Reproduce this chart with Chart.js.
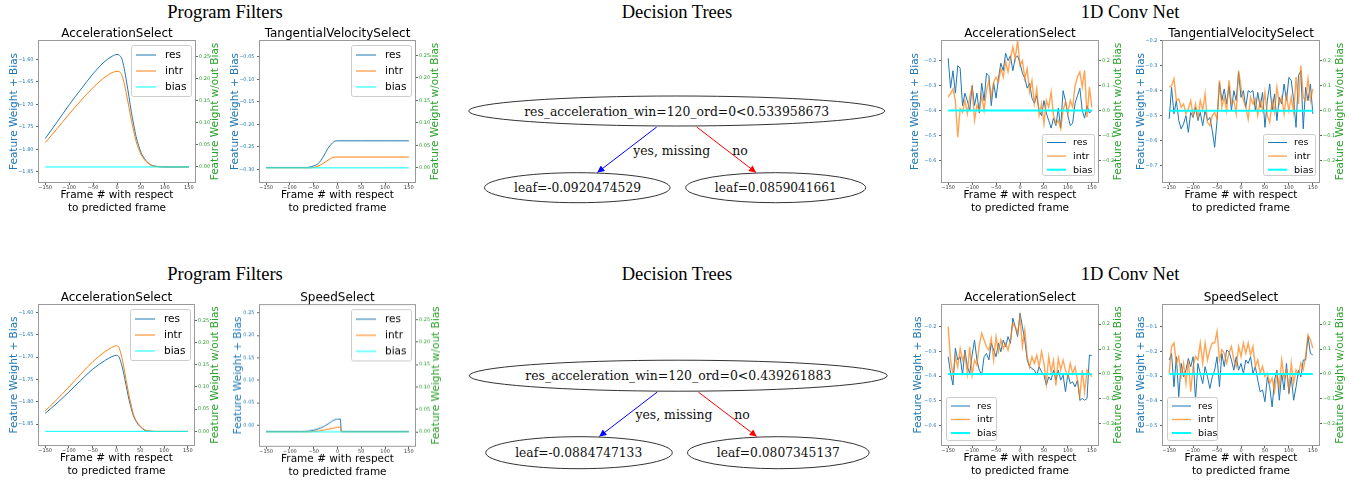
<!DOCTYPE html>
<html>
<head>
<meta charset="utf-8">
<script src="https://cdn.jsdelivr.net/npm/chart.js@4"></script>
<style>
html, body { margin: 0; padding: 0; background: #fff; width: 1355px; height: 480px; overflow: hidden; position: relative; }
canvas { position: absolute; }
svg { position: absolute; left: 0; top: 0; }
.sec { font-family: "Liberation Serif", "Times New Roman", serif; font-size: 18.5px; fill: #000; }
.node { font-family: "DejaVu Serif", "Liberation Serif", serif; font-size: 12.5px; fill: #111; }
</style>
</head>
<body>
<svg width="1355" height="480">
  <defs>
    <marker id="ab" viewBox="0 0 10 10" refX="10" refY="5" markerWidth="8" markerHeight="7" orient="auto">
      <path d="M0,0 L10,5 L0,10 z" fill="#0000ff"/>
    </marker>
    <marker id="ar" viewBox="0 0 10 10" refX="10" refY="5" markerWidth="8" markerHeight="7" orient="auto">
      <path d="M0,0 L10,5 L0,10 z" fill="#ff0000"/>
    </marker>
  </defs>
  <g text-anchor="middle" dominant-baseline="central">
    <text class="sec" x="225" y="12">Program Filters</text>
    <text class="sec" x="677" y="12">Decision Trees</text>
    <text class="sec" x="1130" y="12">1D Conv Net</text>
    <text class="sec" x="225" y="274">Program Filters</text>
    <text class="sec" x="677" y="274">Decision Trees</text>
    <text class="sec" x="1130" y="274">1D Conv Net</text>

    <!-- top tree -->
    <ellipse cx="676.7" cy="111" rx="208" ry="15" fill="none" stroke="#333"/>
    <text class="node" x="676.7" y="111" textLength="305" lengthAdjust="spacingAndGlyphs">res_acceleration_win=120_ord=0&lt;0.533958673</text>
    <line x1="656.7" y1="127" x2="597.3" y2="172.5" stroke="#0000ff" marker-end="url(#ab)"/>
    <line x1="696.7" y1="127" x2="756" y2="172.5" stroke="#ff0000" marker-end="url(#ar)"/>
    <text class="node" x="671.7" y="150" textLength="77" lengthAdjust="spacingAndGlyphs">yes, missing</text>
    <text class="node" x="740" y="150">no</text>
    <ellipse cx="577.3" cy="187.7" rx="92.8" ry="15" fill="none" stroke="#333"/>
    <text class="node" x="577.5" y="187.7" textLength="127" lengthAdjust="spacingAndGlyphs">leaf=-0.0920474529</text>
    <ellipse cx="775.7" cy="187.7" rx="90" ry="15" fill="none" stroke="#333"/>
    <text class="node" x="775.8" y="187.7" textLength="122" lengthAdjust="spacingAndGlyphs">leaf=0.0859041661</text>

    <!-- bottom tree -->
    <ellipse cx="678.3" cy="375.7" rx="209" ry="15.5" fill="none" stroke="#333"/>
    <text class="node" x="678.3" y="375.7" textLength="306" lengthAdjust="spacingAndGlyphs">res_acceleration_win=120_ord=0&lt;0.439261883</text>
    <line x1="657.3" y1="392" x2="599.3" y2="436.5" stroke="#0000ff" marker-end="url(#ab)"/>
    <line x1="698.3" y1="392" x2="756.7" y2="436.5" stroke="#ff0000" marker-end="url(#ar)"/>
    <text class="node" x="674" y="414.3" textLength="77" lengthAdjust="spacingAndGlyphs">yes, missing</text>
    <text class="node" x="742" y="414.3">no</text>
    <ellipse cx="579" cy="452.7" rx="93.3" ry="16" fill="none" stroke="#333"/>
    <text class="node" x="578.7" y="452.7" textLength="127" lengthAdjust="spacingAndGlyphs">leaf=-0.0884747133</text>
    <ellipse cx="778.3" cy="452.7" rx="90.8" ry="16" fill="none" stroke="#333"/>
    <text class="node" x="778.3" y="452.7" textLength="123" lengthAdjust="spacingAndGlyphs">leaf=0.0807345137</text>
  </g>
</svg>
<script>
// ---- data: program filters ----
const progX = [-150, -125, -100, -75, -50, -25, -10, 0, 5, 10, 15, 20, 25, 30, 35, 40, 50, 60, 70, 80, 100, 125, 150];
const pfAccTopRes = [-1.776, -1.739, -1.701, -1.666, -1.632, -1.604, -1.593, -1.589, -1.591, -1.598, -1.620, -1.650, -1.683, -1.717, -1.746, -1.772, -1.806, -1.824, -1.834, -1.837, -1.839, -1.839, -1.839];
const pfAccTopIntr = [0.055, 0.087, 0.120, 0.151, 0.180, 0.204, 0.214, 0.217, 0.216, 0.209, 0.190, 0.164, 0.135, 0.106, 0.081, 0.058, 0.029, 0.013, 0.005, 0.001, 0, 0, 0];
const pfAccBotRes = [-1.826, -1.803, -1.778, -1.752, -1.727, -1.708, -1.699, -1.696, -1.699, -1.714, -1.736, -1.762, -1.789, -1.811, -1.830, -1.842, -1.856, -1.864, -1.866, -1.8665, -1.8665, -1.8665, -1.8665];
const pfAccBotIntr = [0.046, 0.072, 0.100, 0.129, 0.157, 0.179, 0.189, 0.193, 0.189, 0.172, 0.147, 0.117, 0.088, 0.063, 0.041, 0.027, 0.012, 0.003, 0.001, 0, 0, 0, 0];

const tanX = [-150, -100, -70, -60, -50, -40, -30, -20, -10, -5, 0, 50, 100, 150];
const pfTanRes = [-0.2955, -0.2955, -0.2955, -0.295, -0.292, -0.2866, -0.272, -0.253, -0.2406, -0.2368, -0.2365, -0.2365, -0.2365, -0.2365];
const pfTanIntr = [0, 0, 0, 0, 0.001, 0.004, 0.010, 0.017, 0.023, 0.024, 0.024, 0.024, 0.024, 0.024];

const speedX = [-150, -80, -60, -50, -40, -30, -20, -10, 0, 6, 8, 50, 100, 150];
const pfSpeedRes = [-0.0141, -0.0141, -0.013, -0.0112, -0.008, -0.0037, 0.0025, 0.0095, 0.0134, 0.0132, -0.0141, -0.0141, -0.0141, -0.0141];
const pfSpeedIntr = [0, 0, 0, 0.001, 0.002, 0.004, 0.006, 0.008, 0.010, 0.011, 0, 0, 0, 0];

// ---- data: 1D conv net ----
const convX = [-150, -145, -140, -135, -130, -125, -120, -115, -110, -105, -100, -95, -90, -85, -80, -75, -70, -65, -60, -55,
  -50, -45, -40, -35, -30, -25, -20, -15, -10, -5, 0, 5, 10, 15, 20, 25, 30, 35, 40, 45,
  50, 55, 60, 65, 70, 75, 80, 85, 90, 95, 100, 105, 110, 115, 120, 125, 130, 135, 140, 145, 150];
const cnAccTopRes = [-0.19, -0.31, -0.24, -0.33, -0.22, -0.23, -0.38, -0.33, -0.36, -0.40, -0.30, -0.38, -0.33, -0.41, -0.29, -0.36, -0.25, -0.26, -0.38, -0.29,
  -0.35, -0.27, -0.21, -0.24, -0.17, -0.20, -0.18, -0.24, -0.19, -0.18, -0.21, -0.25, -0.27, -0.31, -0.29, -0.35, -0.37, -0.34, -0.40, -0.42,
  -0.36, -0.41, -0.44, -0.47, -0.43, -0.46, -0.39, -0.47, -0.32, -0.36, -0.42, -0.46, -0.45, -0.37, -0.34, -0.31, -0.40, -0.43, -0.38, -0.41, -0.40];
const cnAccTopIntr = [0.054, 0.067, 0.087, 0.04, -0.108, 0.007, -0.007, 0.04, -0.013, 0.054, 0.094, -0.04, 0.02, 0, 0.06, 0, 0.08, 0.12, 0.054, 0.114,
  0.134, 0.114, 0.168, 0.134, 0.195, 0.155, 0.208, 0.255, 0.208, 0.282, 0.181, 0.20, 0.128, 0.168, 0.074, 0.12, 0.027, 0.087, -0.02, 0.027,
  -0.054, 0.04, 0.013, 0.074, -0.02, -0.054, -0.04, -0.074, 0, 0.034, -0.013, 0.04, 0.013, 0.10, 0.134, 0.155, 0.094, 0.161, -0.027, 0.094, 0.013];
const cnTanRes = [-0.513, -0.387, -0.493, -0.44, -0.52, -0.553, -0.533, -0.50, -0.567, -0.487, -0.507, -0.467, -0.52, -0.487, -0.54, -0.48, -0.52, -0.507, -0.56, -0.627,
  -0.52, -0.367, -0.44, -0.393, -0.453, -0.38, -0.48, -0.40, -0.44, -0.327, -0.427, -0.40, -0.467, -0.40, -0.407, -0.40, -0.48, -0.407, -0.467, -0.407,
  -0.547, -0.44, -0.373, -0.48, -0.413, -0.52, -0.427, -0.453, -0.373, -0.44, -0.347, -0.36, -0.44, -0.547, -0.34, -0.32, -0.553, -0.387, -0.44, -0.373, -0.493];
const cnTanIntr = [0.094, 0.10, 0.128, 0.04, 0.047, 0.013, 0.027, -0.013, 0.007, 0.04, -0.02, 0.027, -0.027, 0.04, 0, 0.067, -0.047, -0.06, -0.02, -0.007,
  -0.034, 0.121, 0.013, 0.054, 0, 0.121, 0.027, 0.04, -0.013, 0.161, 0.094, 0.04, 0.013, -0.034, 0.054, 0.027, 0.047, -0.02, 0.04, 0,
  0.074, -0.02, -0.047, 0.04, -0.007, 0.094, 0.027, 0.054, -0.013, 0.06, 0, 0.054, -0.007, 0.134, 0.027, 0.181, 0.054, 0.04, 0.128, 0.04, 0.087];
const cnAccBotRes = [-0.322, -0.389, -0.436, -0.288, -0.335, -0.322, -0.396, -0.295, -0.362, -0.389, -0.315, -0.255, -0.335, -0.376, -0.396, -0.322, -0.309, -0.335, -0.268, -0.295,
  -0.322, -0.268, -0.302, -0.255, -0.282, -0.241, -0.268, -0.167, -0.201, -0.241, -0.147, -0.201, -0.255, -0.335, -0.362, -0.369, -0.376, -0.396, -0.362, -0.383,
  -0.396, -0.436, -0.403, -0.416, -0.376, -0.416, -0.376, -0.416, -0.396, -0.463, -0.389, -0.43, -0.423, -0.443, -0.416, -0.497, -0.49, -0.497, -0.49, -0.315, -0.318];
const cnAccBotIntr = [0.19, 0.055, -0.005, 0.069, 0.028, 0.102, 0.055, 0.082, 0.001, 0.109, -0.005, 0.055, 0.035, 0.116, 0.163, 0.136, 0.109, 0.095, 0.142, 0.055,
  0.149, 0.089, 0.136, 0.102, 0.122, 0.095, 0.136, 0.203, 0.19, 0.163, 0.23, 0.109, 0.176, 0.069, 0.028, 0.069, 0.042, 0.075, 0.028, 0.089,
  0.042, -0.039, 0.069, 0.008, 0.055, -0.046, 0.062, 0.015, 0.055, 0.015, -0.012, 0.042, 0.001, 0.028, -0.026, -0.093, 0.015, -0.073, 0.015, 0.001, -0.012];
const cnSpeedRes = [-0.235, -0.209, -0.343, -0.222, -0.383, -0.249, -0.303, -0.276, -0.229, -0.262, -0.222, -0.397, -0.249, -0.289, -0.33, -0.262, -0.303, -0.35, -0.303, -0.276,
  -0.222, -0.343, -0.209, -0.262, -0.195, -0.202, -0.235, -0.276, -0.222, -0.276, -0.249, -0.289, -0.235, -0.249, -0.222, -0.289, -0.262, -0.316, -0.363, -0.356,
  -0.403, -0.303, -0.343, -0.424, -0.316, -0.276, -0.397, -0.289, -0.356, -0.249, -0.37, -0.303, -0.397, -0.343, -0.276, -0.303, -0.235, -0.235, -0.141, -0.209, -0.215];
const cnSpeedIntr = [0.003, 0.11, 0.124, 0.043, 0.07, -0.011, 0.043, -0.038, 0.056, -0.071, 0.03, 0.07, 0.056, 0.124, 0.043, 0.124, 0.056, 0.097, 0.124, 0.124,
  0.171, 0.056, 0.097, 0.083, 0.043, 0.083, 0.11, 0.056, 0.03, 0.11, 0.07, 0.124, 0.083, 0.124, 0.077, 0.11, 0.03, 0.056, 0.003, 0.03,
  -0.011, 0.003, -0.038, -0.017, -0.071, 0.003, -0.051, 0.056, -0.017, 0.016, -0.065, 0.043, -0.038, 0.016, -0.004, 0.043, 0.016, 0.07, 0.157, 0.137, 0.103];

const biasX = [-150, 150];
const biasY = [0, 0];

// ---- tick labels ----
const xTicks = [-150, -100, -50, 0, 50, 100, 150];
const pfAccLeftTicks = [-1.85, -1.80, -1.75, -1.70, -1.65, -1.60];
const pfTanLeftTicks = [-0.30, -0.25, -0.20, -0.15, -0.10, -0.05];
const pfSpeedLeftTicks = [0, 0.05, 0.10, 0.15, 0.20, 0.25];
const pfRightTicks = [0, 0.05, 0.10, 0.15, 0.20, 0.25];
const cnAccLeftTicks = [-0.6, -0.5, -0.4, -0.3, -0.2];
const cnTanLeftTicks = [-0.7, -0.6, -0.5, -0.4, -0.3, -0.2];
const cnSpeedLeftTicks = [-0.5, -0.4, -0.3, -0.2, -0.1];
const cnRightTicks = [-0.2, -0.1, 0, 0.1, 0.2];

const FONT = 'DejaVu Sans';
const fmt = (v, d) => (v < -1e-9 ? '\u2212' : '') + Math.abs(v).toFixed(d);

// legend layouts
const legProg = { corner: 'tr', gx: 5, gy: 5, w: 60, h: 51, first: 10, row: 16, inset: 5, len: 20, tgap: 9, size: 10.5 };
const legConvTop = { corner: 'br', gx: 5, gy: 8, w: 52, h: 41, first: 8.5, row: 13.6, inset: 5, len: 19, tgap: 7, size: 9.5 };
const legConvBot = { corner: 'bl', gx: 5, gy: 6, w: 50, h: 43, first: 9, row: 13.5, inset: 5, len: 19, tgap: 7, size: 9.5 };

// frame, title, right axis title and legend inside the axes
const panelDeco = {
  id: 'panelDeco',
  afterDraw(chart, args, o) {
    const { ctx, chartArea: a } = chart;
    ctx.save();
    ctx.strokeStyle = '#9a9a9a';
    ctx.lineWidth = 1;
    ctx.strokeRect(Math.round(a.left) + 0.5, Math.round(a.top) + 0.5, Math.round(a.right - a.left) - 1, Math.round(a.bottom - a.top) - 1);

    ctx.fillStyle = '#000';
    ctx.font = '12px "' + FONT + '"';
    ctx.textAlign = 'center';
    ctx.textBaseline = 'middle';
    ctx.fillText(o.title, (a.left + a.right) / 2, a.top - 6);

    ctx.save();
    ctx.translate(o.rtX, (a.top + a.bottom) / 2);
    ctx.rotate(-Math.PI / 2);
    ctx.fillStyle = '#2ca02c';
    ctx.font = '10.5px "' + FONT + '"';
    ctx.fillText('Feature Weight w/out Bias', 0, 0);
    ctx.restore();

    const g = o.legend;
    const bx = g.corner[1] === 'r' ? a.right - g.gx - g.w : a.left + g.gx;
    const by = g.corner[0] === 't' ? a.top + g.gy : a.bottom - g.gy - g.h;
    ctx.fillStyle = 'rgba(255,255,255,0.85)';
    ctx.strokeStyle = '#cccccc';
    ctx.lineWidth = 1;
    ctx.beginPath();
    ctx.roundRect(Math.round(bx) + 0.5, Math.round(by) + 0.5, g.w, g.h, 2);
    ctx.fill();
    ctx.stroke();
    chart.data.datasets.forEach((d, i) => {
      const y = by + g.first + i * g.row;
      ctx.strokeStyle = d.borderColor;
      ctx.lineWidth = d.borderWidth;
      ctx.beginPath();
      ctx.moveTo(bx + g.inset, y);
      ctx.lineTo(bx + g.inset + g.len, y);
      ctx.stroke();
      ctx.fillStyle = '#000';
      ctx.font = g.size + 'px "' + FONT + '"';
      ctx.textAlign = 'left';
      ctx.fillText(d.label, bx + g.inset + g.len + g.tgap, y + 0.5);
    });
    ctx.restore();
  }
};

function pts(xs, ys) {
  return xs.map((x, i) => ({ x: x, y: ys[i] }));
}

function makePanel(p) {
  const cv = document.createElement('canvas');
  const w = p.R + 34 - p.cx;
  const h = p.B - p.T + 57;
  cv.width = w;
  cv.height = h;
  cv.style.left = p.cx + 'px';
  cv.style.top = (p.T - 20) + 'px';
  cv.style.width = w + 'px';
  cv.style.height = h + 'px';
  document.body.appendChild(cv);
  const conv = p.kind === 'conv';
  const dec = conv ? 1 : 2;

  new Chart(cv, {
    type: 'line',
    data: {
      datasets: [
        { label: 'res', data: pts(p.xs, p.res), yAxisID: 'y', borderColor: '#1f77b4', borderWidth: 1, order: 3 },
        { label: 'intr', data: pts(p.xs, p.intr), yAxisID: 'y1', borderColor: conv ? 'rgba(255,127,14,0.7)' : '#ff7f0e', borderWidth: conv ? 1.4 : 1, order: 2 },
        { label: 'bias', data: pts(biasX, biasY), yAxisID: 'y1', borderColor: '#00ffff', borderWidth: conv ? 2 : 1, order: 1 }
      ]
    },
    options: {
      responsive: false,
      animation: false,
      events: [],
      layout: { padding: { top: 20 } },
      elements: {
        point: { radius: 0 },
        line: { tension: 0, cubicInterpolationMode: conv ? 'default' : 'monotone' }
      },
      plugins: {
        legend: { display: false },
        tooltip: { enabled: false },
        title: { display: false },
        panelDeco: { title: p.title, rtX: p.rt - p.cx, legend: p.legend }
      },
      scales: {
        x: {
          type: 'linear', min: -165, max: 165,
          afterBuildTicks: s => { s.ticks = xTicks.map(v => ({ value: v })); },
          afterFit: s => { s.height = 37; },
          ticks: { font: { family: FONT, size: 5 }, color: '#333', padding: 0, maxRotation: 0, autoSkip: false, callback: v => fmt(v, 0) },
          grid: { drawOnChartArea: false, tickLength: 2, color: '#666' },
          border: { display: false },
          title: {
            display: true, text: ['Frame # with respect', 'to predicted frame'], color: '#000',
            font: { family: FONT, size: 10.5, lineHeight: 1.2 }, padding: { top: 0, bottom: 5.4 }
          }
        },
        y: {
          position: 'left', min: p.yL[0], max: p.yL[1],
          afterBuildTicks: s => { s.ticks = p.tL.map(v => ({ value: v })); },
          afterFit: s => { s.width = p.L - p.cx; },
          ticks: { font: { family: FONT, size: 5 }, color: '#1f77b4', padding: 2.5, autoSkip: false, callback: v => fmt(v, dec) },
          grid: { drawOnChartArea: false, tickLength: 2, color: '#666' },
          border: { display: false },
          title: {
            display: true, text: 'Feature Weight + Bias', color: '#1f77b4',
            font: { family: FONT, size: 10.5, lineHeight: 1.2 }, padding: { top: p.lt - p.cx - 6.3, bottom: 0 }
          }
        },
        y1: {
          position: 'right', min: p.yR[0], max: p.yR[1],
          afterBuildTicks: s => { s.ticks = p.tR.map(v => ({ value: v })); },
          afterFit: s => { s.width = 34; },
          ticks: { font: { family: FONT, size: 5 }, color: '#2ca02c', padding: 1, autoSkip: false, callback: v => fmt(v, dec) },
          grid: { drawOnChartArea: false, tickLength: 2, color: '#666' },
          border: { display: false }
        }
      }
    },
    plugins: [panelDeco]
  });
}

const panels = [
  { cx: 0, L: 38, R: 196, T: 40, B: 183, lt: 14, rt: 215, title: 'AccelerationSelect', kind: 'prog',
    xs: progX, res: pfAccTopRes, intr: pfAccTopIntr, yL: [-1.8745, -1.557], yR: [-0.0364, 0.288], tL: pfAccLeftTicks, tR: pfRightTicks, legend: legProg },
  { cx: 220, L: 259, R: 416, T: 40, B: 183, lt: 235, rt: 435, title: 'TangentialVelocitySelect', kind: 'prog',
    xs: tanX, res: pfTanRes, intr: pfTanIntr, yL: [-0.330, -0.013], yR: [-0.0336, 0.284], tL: pfTanLeftTicks, tR: pfRightTicks, legend: legProg },
  { cx: 0, L: 38, R: 195, T: 304, B: 446, lt: 14, rt: 215, title: 'AccelerationSelect', kind: 'prog',
    xs: progX, res: pfAccBotRes, intr: pfAccBotIntr, yL: [-1.899, -1.581], yR: [-0.033, 0.287], tL: pfAccLeftTicks, tR: pfRightTicks, legend: legProg },
  { cx: 220, L: 259, R: 416, T: 304, B: 446.5, lt: 238, rt: 436, title: 'SpeedSelect', kind: 'prog',
    xs: speedX, res: pfSpeedRes, intr: pfSpeedIntr, yL: [-0.0486, 0.270], yR: [-0.0336, 0.285], tL: pfSpeedLeftTicks, tR: pfRightTicks, legend: legProg },
  { cx: 900, L: 941, R: 1099, T: 40, B: 183, lt: 915, rt: 1118, title: 'AccelerationSelect', kind: 'conv',
    xs: convX, res: cnAccTopRes, intr: cnAccTopIntr, yL: [-0.69, -0.117], yR: [-0.2915, 0.283], tL: cnAccLeftTicks, tR: cnRightTicks, legend: legConvTop },
  { cx: 1120, L: 1162, R: 1320, T: 40, B: 183, lt: 1141, rt: 1340, title: 'TangentialVelocitySelect', kind: 'conv',
    xs: convX, res: cnTanRes, intr: cnTanIntr, yL: [-0.77, -0.197], yR: [-0.29, 0.283], tL: cnTanLeftTicks, tR: cnRightTicks, legend: legConvTop },
  { cx: 900, L: 941, R: 1099, T: 304, B: 446, lt: 918, rt: 1118, title: 'AccelerationSelect', kind: 'conv',
    xs: convX, res: cnAccBotRes, intr: cnAccBotIntr, yL: [-0.681, -0.11], yR: [-0.29, 0.281], tL: cnAccLeftTicks, tR: cnRightTicks, legend: legConvBot },
  { cx: 1120, L: 1162, R: 1320, T: 304, B: 446, lt: 1141, rt: 1340, title: 'SpeedSelect', kind: 'conv',
    xs: convX, res: cnSpeedRes, intr: cnSpeedIntr, yL: [-0.581, -0.01], yR: [-0.29, 0.281], tL: cnSpeedLeftTicks, tR: cnRightTicks, legend: legConvBot }
];

panels.forEach(makePanel);
</script>
</body>
</html>
